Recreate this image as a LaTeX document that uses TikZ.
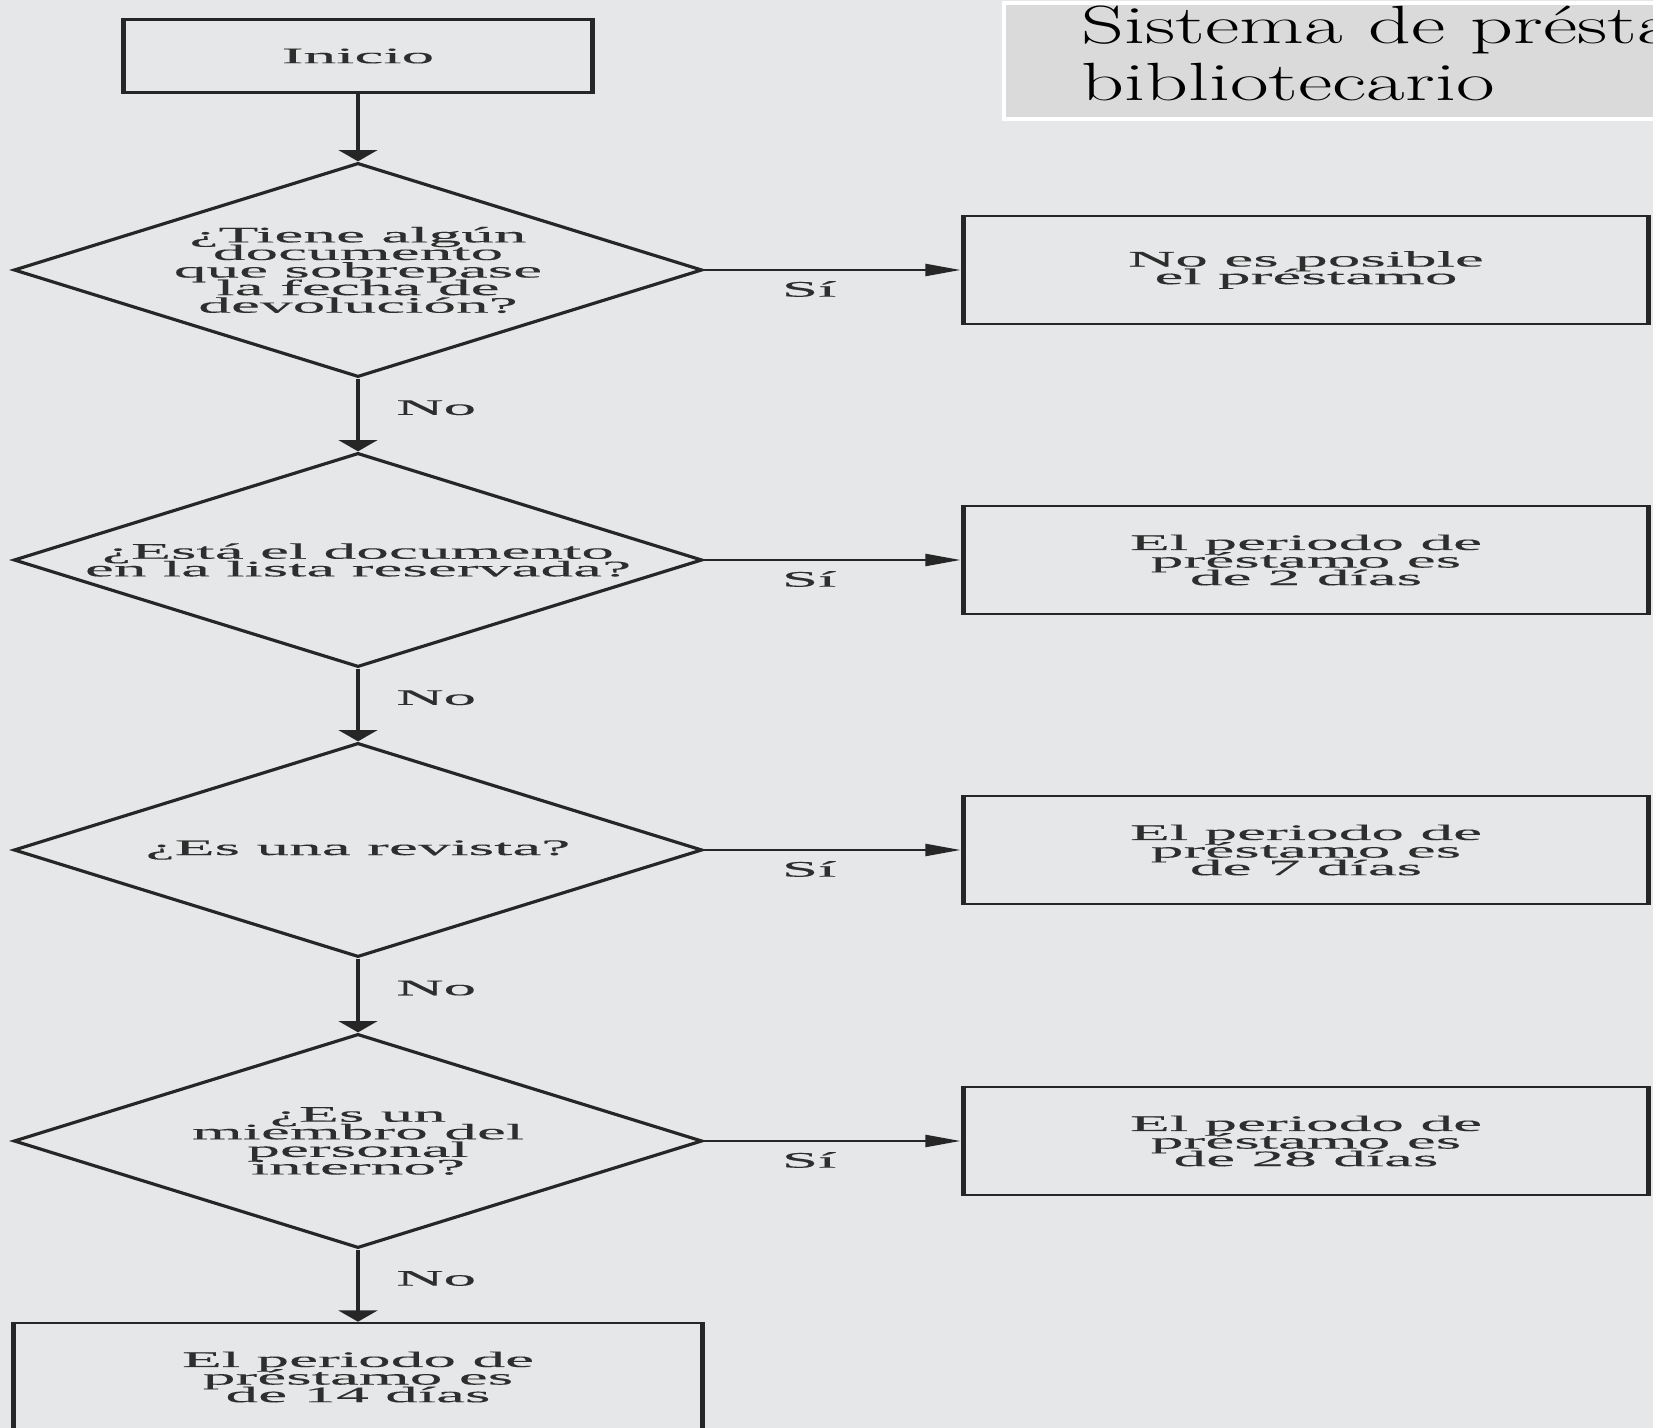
\documentclass[tikz,border=0pt]{standalone}
\usepackage{fontspec}
\usetikzlibrary{shapes.geometric,arrows.meta,positioning}
\newfontfamily\chartfont[FakeStretch=2.95,FakeBold=0.3]{Liberation Serif}
\newfontfamily\titlefont[FakeStretch=1.56]{Latin Modern Roman}
\newcommand{\chartsize}{\chartfont\fontsize{6.3}{5}\selectfont\lineskiplimit=-10pt}
\definecolor{paper}{HTML}{E6E7E8}
\definecolor{bannergray}{HTML}{DADADA}
\definecolor{ink}{HTML}{262626}
\definecolor{textgray}{HTML}{2E2E2E}

\begin{document}
\begin{tikzpicture}[x=0.01cm,y=-0.01cm]
	% `block' is a process box, its sides are drawn thicker than top and bottom.
	% `decision' is a question diamond.
	\tikzstyle{block} = [draw=ink,line width=0.7pt,font=\chartsize,text=textgray,align=center,inner sep=0pt,
	 path picture={\draw[ink,line width=2.2pt] (path picture bounding box.north west) -- (path picture bounding box.south west)
	 (path picture bounding box.north east) -- (path picture bounding box.south east);}]
	\tikzstyle{result} = [block,minimum width=6.88cm,minimum height=1.08cm]
	\tikzstyle{decision} = [diamond,aspect=3.2,draw=ink,line width=0.9pt,font=\chartsize,text=textgray,align=center,
	 inner sep=0pt,minimum width=6.88cm,minimum height=2.14cm]
	\tikzstyle{down} = [draw=ink,line width=1.3pt,-{Triangle[width=11pt,length=3.2pt]}]
	\tikzstyle{across} = [draw=ink,line width=0.7pt,-{Triangle[width=3.4pt,length=10pt]}]
	\tikzstyle{answer} = [font=\chartsize,text=textgray,inner sep=0pt]
	%
	\useasboundingbox (0,0) rectangle (1653,1428);
	\fill[paper] (0,0) rectangle (1653,1428);
	\clip (0,0) rectangle (1653,1428);
	% Title banner.
	\node[fill=bannergray,draw=white,line width=1pt,anchor=north west,inner sep=0pt,
	 minimum width=6.8cm,minimum height=1.16cm] (banner) at (1002,1) {};
	\node[font=\titlefont\fontsize{15.3}{16.4}\selectfont,anchor=base west,align=left,inner sep=0pt]
	 (title) at (1081,101) {Sistema de préstamo\\bibliotecario};
	% Main column.
	\node[block,minimum width=4.72cm,minimum height=0.73cm] (inicio) at (358,56) {Inicio};
	\node[decision] (q1) at (358,270) {¿Tiene algún\\documento\\que sobrepase\\la fecha de\\devolución?};
	\node[decision] (q2) at (358,560) {¿Está el documento\\en la lista reservada?};
	\node[decision] (q3) at (358,850) {¿Es una revista?};
	\node[decision] (q4) at (358,1141) {¿Es un\\miembro del\\personal\\interno?};
	\node[block,minimum width=6.92cm,minimum height=1.08cm] (r5) at (358,1377) {El periodo de\\préstamo es\\de 14 días};
	% Right column.
	\node[result] (r1) at (1306,270) {No es posible\\el préstamo};
	\node[result] (r2) at (1306,560) {El periodo de\\préstamo es\\de 2 días};
	\node[result] (r3) at (1306,850) {El periodo de\\préstamo es\\de 7 días};
	\node[result] (r4) at (1306,1141) {El periodo de\\préstamo es\\de 28 días};
	% Connectors.
	\draw[down] (inicio) -- (q1);
	\draw[down] (q1) -- node[answer,right=0.36cm,pos=0.4] (no1) {No} (q2);
	\draw[down] (q2) -- node[answer,right=0.36cm,pos=0.4] (no2) {No} (q3);
	\draw[down] (q3) -- node[answer,right=0.36cm,pos=0.4] (no3) {No} (q4);
	\draw[down] (q4) -- node[answer,right=0.36cm,pos=0.4] (no4) {No} (r5);
	\draw[across] (q1) -- node[answer,below=0.1cm,pos=0.41] (si1) {Sí} (r1);
	\draw[across] (q2) -- node[answer,below=0.1cm,pos=0.41] (si2) {Sí} (r2);
	\draw[across] (q3) -- node[answer,below=0.1cm,pos=0.41] (si3) {Sí} (r3);
	\draw[across] (q4) -- node[answer,below=0.1cm,pos=0.41] (si4) {Sí} (r4);
%
\end{tikzpicture}
\end{document}
